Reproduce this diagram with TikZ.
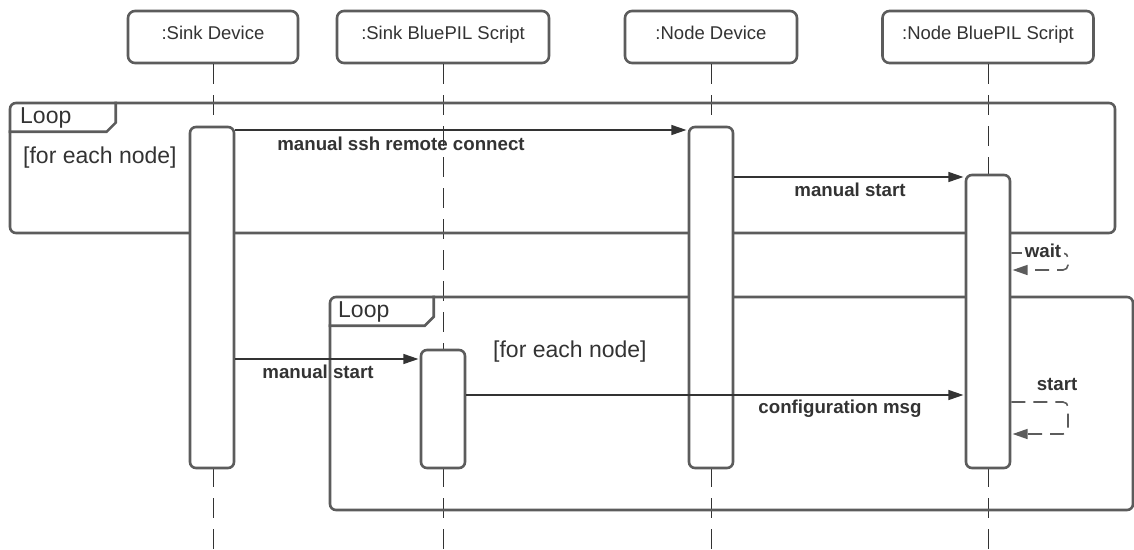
\documentclass[tikz,border=0pt]{standalone}
\usepackage{fontspec}
\setmainfont{Liberation Sans}
\usetikzlibrary{arrows.meta}
\definecolor{framegray}{HTML}{5C5C5C}
\definecolor{ink}{HTML}{333333}
\begin{document}
\begin{tikzpicture}[x=1pt,y=-1pt,
  head/.style={draw=framegray, line width=2.6pt, rounded corners=7pt, fill=white,
    minimum height=52pt, inner sep=0pt, text height=14pt, text depth=8.6pt,
    text=ink, font=\fontsize{18.5}{22}\selectfont},
  actbar/.style={draw=framegray, line width=2.6pt, rounded corners=6pt, fill=white,
    minimum width=44pt, inner sep=0pt},
  life/.style={draw=ink, line width=0.9pt, dash pattern=on 20pt off 11pt},
  msg/.style={draw=ink, line width=1.2pt, shorten >=1.3pt,
    -{Triangle[length=15pt,width=10pt]}},
  selfmsg/.style={draw=framegray, line width=1.6pt, dash pattern=on 14pt off 8pt,
    rounded corners=5pt, shorten >=1.3pt, -{Triangle[length=15pt,width=10pt]}},
  lbl/.style={text=ink, font=\fontsize{18.7}{22}\selectfont\bfseries, inner sep=1pt},
  frm/.style={draw=framegray, line width=2.6pt, rounded corners=6pt, inner sep=0pt},
  tab/.style={draw=framegray, line width=2.6pt},
  frmtext/.style={text=ink, font=\fontsize{23}{27}\selectfont, inner sep=0pt, anchor=west}
]
\useasboundingbox (0,0) rectangle (1134,549);

% participants
\node[head, minimum width=170pt] (sd) at (213,37) {:Sink Device};
\node[head, minimum width=212pt] (sb) at (443,37) {:Sink BluePIL Script};
\node[head, minimum width=172pt] (nd) at (711,37) {:Node Device};
\node[head, minimum width=211pt] (nb) at (988,37) {:Node BluePIL Script};

% lifeline ends
\coordinate (sdend) at (213,549);
\coordinate (sbend) at (443,549);
\coordinate (ndend) at (711,549);
\coordinate (nbend) at (988,549);
\draw[life] (sd.south) -- (sdend);
\draw[life] (sb.south) -- (sbend);
\draw[life] (nd.south) -- (ndend);
\draw[life] (nb.south) -- (nbend);

% combined fragments
\node[frm, minimum width=1105pt, minimum height=130pt] (loopA) at (562.5,168) {};
\draw[tab] (loopA.north west) ++(0,30) -- ++(98,0) -- ++(9,-9) -- ++(0,-21);
\node[frmtext] (loopAname) at (20,118) {Loop};
\node[frmtext] (loopAguard) at (23,158) {[for each node]};

\node[frm, minimum width=803pt, minimum height=213pt] (loopB) at (731.5,403.5) {};
\draw[tab] (loopB.north west) ++(0,30) -- ++(96,0) -- ++(9,-9) -- ++(0,-21);
\node[frmtext] (loopBname) at (338,312) {Loop};
\node[frmtext] (loopBguard) at (493,352) {[for each node]};

% activations
\node[actbar, minimum height=341pt] (sdb) at (212,297.5) {};
\node[actbar, minimum height=118pt] (sbb) at (443,409) {};
\node[actbar, minimum height=341pt] (ndb) at (711,297.5) {};
\node[actbar, minimum height=293pt] (nbb) at (988,321.5) {};

% message rows
\coordinate (r1) at (0,130);
\coordinate (r2) at (0,177);
\coordinate (r3) at (0,253);
\coordinate (r3b) at (0,270);
\coordinate (r4) at (0,359);
\coordinate (r5) at (0,395);
\coordinate (r6) at (0,402);
\coordinate (r6b) at (0,434);
\coordinate (loopx) at (1068,0);

\draw[msg] (sdb.east |- r1) -- (ndb.west |- r1);
\node[lbl] (m1) at (401,144) {manual ssh remote connect};

\draw[msg] (ndb.east |- r2) -- (nbb.west |- r2);
\node[lbl] (m2) at (850,190) {manual start};

\draw[selfmsg] (nbb.east |- r3) -- (loopx |- r3) -- (loopx |- r3b) -- (nbb.east |- r3b);
\node[lbl, fill=white, inner xsep=3pt] (m3) at (1043,251) {wait};

\draw[msg] (sdb.east |- r4) -- (sbb.west |- r4);
\node[lbl] (m4) at (318,372) {manual start};

\draw[msg] (sbb.east |- r5) -- (nbb.west |- r5);
\node[lbl] (m5) at (840,409) {configuration msg};

\draw[selfmsg] (nbb.east |- r6) -- (loopx |- r6) -- (loopx |- r6b) -- (nbb.east |- r6b);
\node[lbl] (m6) at (1057,384) {start};
\end{tikzpicture}
\end{document}
